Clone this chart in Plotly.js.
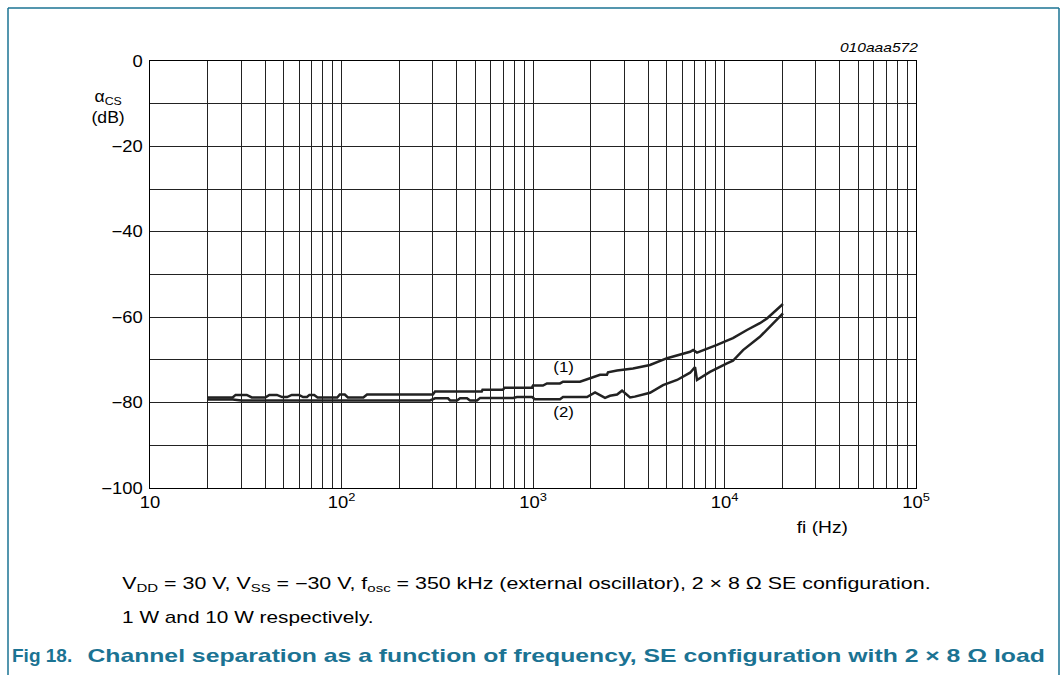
<!DOCTYPE html>
<html>
<head>
<meta charset="utf-8">
<script src="https://cdn.plot.ly/plotly-3.0.1.min.js"></script>
<style>
html,body{margin:0;padding:0;background:#fff;}
#chart{width:1063px;height:675px;}
</style>
</head>
<body>
<div id="chart"></div>
<script>
// Curve (1): frequency (Hz) and channel separation (dB)
const freq1 = [20, 27, 28, 32, 34, 40, 42, 46, 49, 52, 55, 60, 63, 66, 68, 72, 75, 95, 98, 104, 108, 130, 136, 300, 308, 540, 545, 697, 710, 988, 1000, 1127, 1183, 1383, 1435, 1759, 1986, 2240, 2433, 2464, 2748, 3329, 4083, 5012, 6610, 6856, 7183, 7600, 9140, 10300, 11070, 13100, 15300, 16670, 20200];
const sep1  = [-78.8, -78.8, -78.2, -78.2, -78.8, -78.8, -78.2, -78.2, -78.7, -78.7, -78.2, -78.2, -78.7, -78.7, -78.2, -78.2, -78.8, -78.8, -78.1, -78.1, -78.8, -78.8, -78.1, -78.1, -77.4, -77.4, -77.0, -77.0, -76.5, -76.5, -76.0, -76.0, -75.5, -75.5, -75.1, -75.1, -74.3, -73.5, -73.5, -72.9, -72.5, -72.0, -71.2, -69.6, -68.1, -67.7, -68.3, -67.9, -66.5, -65.5, -64.9, -63.0, -61.4, -60.3, -56.9];

// Curve (2)
const freq2 = [20, 27, 30, 290, 308, 360, 369, 401, 416, 452, 469, 510, 530, 787, 825, 988, 1023, 1383, 1435, 1914, 2109, 2377, 2523, 2748, 2917, 3212, 3400, 4083, 4775, 5653, 6610, 7017, 7183, 8395, 10300, 11070, 12500, 15300, 20200];
const sep2  = [-79.3, -79.3, -79.5, -79.5, -79.0, -79.0, -79.5, -79.5, -79.0, -79.0, -79.5, -79.5, -78.9, -78.9, -78.7, -78.7, -79.2, -79.2, -78.7, -78.7, -77.6, -78.9, -78.4, -78.1, -77.2, -78.8, -78.6, -77.7, -75.9, -74.7, -73.0, -71.7, -74.7, -72.8, -70.8, -70.2, -67.7, -64.6, -59.1];

// Axis ticks
const xDecades = [10, 100, 1000, 10000, 100000];
const xDecadeLabels = ['10', '10<sup>2</sup>', '10<sup>3</sup>', '10<sup>4</sup>', '10<sup>5</sup>'];
const yTicks = [0, -10, -20, -30, -40, -50, -60, -70, -80, -90, -100];
const yTickLabels = ['0', '', '\u221220', '', '\u221240', '', '\u221260', '', '\u221280', '', '\u2212100'];

// build log grid (all 1..9 multiples), labels only on decades
const xGrid = [], xGridText = [];
for (let d = 0; d < xDecades.length; d++) {
  const base = xDecades[d];
  const maxM = (d === xDecades.length - 1) ? 1 : 9;
  for (let m = 1; m <= maxM; m++) {
    xGrid.push(base * m);
    xGridText.push(m === 1 ? xDecadeLabels[d] : '');
  }
}

const FONT = 'Liberation Sans, Arial, sans-serif';
const TEAL = '#1b7393';

const lineStyle = {color: '#222', width: 2.5};
const traces = [
  {x: freq1, y: sep1, type: 'scatter', mode: 'lines', line: lineStyle, hoverinfo: 'skip'},
  {x: freq2, y: sep2, type: 'scatter', mode: 'lines', line: lineStyle, hoverinfo: 'skip'}
];

// pixel -> paper helpers (plot area: x 150..916, y 61..488)
const px = v => (v - 150) / 766;
const py = v => (488 - v) / 427;

const annStretch = [1.1, 1.2, 1.2, 1.2, 1.2, 1.337, 1.3, 1.0, 1.303];

const layout = {
  width: 1063, height: 675,
  margin: {l: 150, r: 147, t: 61, b: 187},
  paper_bgcolor: '#fff', plot_bgcolor: '#fff',
  showlegend: false,
  font: {family: FONT, size: 16, color: '#000'},
  xaxis: {
    type: 'log', range: [1, 5],
    tickmode: 'array', tickvals: xGrid, ticktext: xGridText,
    showgrid: true, gridcolor: '#222', gridwidth: 1,
    showline: true, linecolor: '#000', linewidth: 1, mirror: true,
    ticks: '', zeroline: false,
    tickfont: {family: FONT, size: 16, color: '#000'}
  },
  yaxis: {
    range: [-100, 0],
    tickmode: 'array', tickvals: yTicks, ticktext: yTickLabels,
    showgrid: true, gridcolor: '#222', gridwidth: 1,
    showline: true, linecolor: '#000', linewidth: 1, mirror: true,
    ticks: '', zeroline: false, ticklabelstandoff: 3,
    tickfont: {family: FONT, size: 16, color: '#000'}
  },
  shapes: [
    {type: 'line', xref: 'paper', yref: 'paper', x0: px(8), x1: px(8), y0: py(8), y1: py(675), line: {color: TEAL, width: 1.5}},
    {type: 'line', xref: 'paper', yref: 'paper', x0: px(8), x1: px(1059), y0: py(8), y1: py(8), line: {color: TEAL, width: 1.5}},
    {type: 'line', xref: 'paper', yref: 'paper', x0: px(1059), x1: px(1059), y0: py(8), y1: py(675), line: {color: TEAL, width: 1.5}}
  ],
  annotations: [
    {xref: 'paper', yref: 'paper', x: px(108), y: py(107), text: '\u03b1<sub>CS</sub><br>(dB)', showarrow: false, xanchor: 'center', yanchor: 'middle', font: {family: FONT, size: 16}},
    {xref: 'paper', yref: 'paper', x: px(921), y: py(48), text: '<i>010aaa572</i>', showarrow: false, xanchor: 'right', yanchor: 'middle', font: {family: FONT, size: 13}},
    {xref: 'paper', yref: 'paper', x: px(822), y: py(527), text: 'fi (Hz)', showarrow: false, xanchor: 'center', yanchor: 'middle', font: {family: FONT, size: 16}},
    {xref: 'paper', yref: 'paper', x: px(563), y: py(367), text: '(1)', showarrow: false, xanchor: 'center', yanchor: 'middle', font: {family: FONT, size: 14}},
    {xref: 'paper', yref: 'paper', x: px(563), y: py(412), text: '(2)', showarrow: false, xanchor: 'center', yanchor: 'middle', font: {family: FONT, size: 14}},
    {xref: 'paper', yref: 'paper', x: px(120), y: py(584), text: 'V<sub>DD</sub> = 30 V, V<sub>SS</sub> = \u221230 V, f<sub>osc</sub> = 350 kHz (external oscillator), 2 \u00d7 8 \u03a9 SE configuration.', showarrow: false, xanchor: 'left', yanchor: 'middle', font: {family: FONT, size: 16}},
    {xref: 'paper', yref: 'paper', x: px(120), y: py(617), text: '1 W and 10 W respectively.', showarrow: false, xanchor: 'left', yanchor: 'middle', font: {family: FONT, size: 16}},
    {xref: 'paper', yref: 'paper', x: px(10), y: py(655), text: '<b>Fig 18.</b>', showarrow: false, xanchor: 'left', yanchor: 'middle', font: {family: FONT, size: 19, color: TEAL}},
    {xref: 'paper', yref: 'paper', x: px(85), y: py(655), text: '<b>Channel separation as a function of frequency, SE configuration with 2 \u00d7 8 \u03a9 load</b>', showarrow: false, xanchor: 'left', yanchor: 'middle', font: {family: FONT, size: 19, color: TEAL}}
  ]
};

// horizontal stretch about a chosen anchor, to mimic the reference's wide Arial rendering
function stretch(el, s, anchor) {
  if (s === 1) return;
  const bb = el.getBBox();
  let ax = bb.x;
  if (anchor === 'right') ax = bb.x + bb.width;
  else if (anchor === 'center') ax = bb.x + bb.width / 2;
  const prev = el.getAttribute('transform') || '';
  el.setAttribute('transform', prev + ' translate(' + ax + ',0) scale(' + s + ',1) translate(' + (-ax) + ',0)');
}

Plotly.newPlot('chart', traces, layout, {staticPlot: true, displayModeBar: false}).then(gd => {
  gd.querySelectorAll('.annotation').forEach(g => {
    const i = +g.getAttribute('data-index');
    const t = g.querySelector('.annotation-text');
    if (t && !isNaN(i)) stretch(t, annStretch[i], layout.annotations[i].xanchor);
  });
  gd.querySelectorAll('.ytick text').forEach(t => { if (t.textContent) stretch(t, 1.15, 'right'); });
  gd.querySelectorAll('.xtick text').forEach(t => { if (t.textContent) stretch(t, 1.15, 'center'); });
});
</script>
</body>
</html>
